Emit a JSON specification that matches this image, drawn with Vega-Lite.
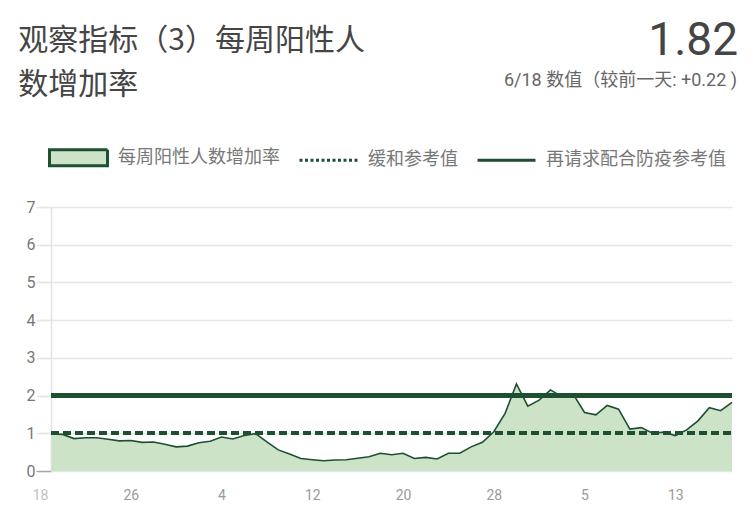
{
  "$schema": "https://vega.github.io/schema/vega-lite/v6.json",
  "width": 692,
  "height": 264,
  "autosize": {"type": "none"},
  "padding": {"left": 40, "top": 207, "right": 24, "bottom": 42},
  "background": "white",
  "config": {"view": {"stroke": null}, "font": "Roboto"},
  "data": {"values": [
    {"date": "2020/04/19", "value": 0.98},
    {"date": "2020/04/20", "value": 0.97},
    {"date": "2020/04/21", "value": 0.86},
    {"date": "2020/04/22", "value": 0.88},
    {"date": "2020/04/23", "value": 0.88},
    {"date": "2020/04/24", "value": 0.84},
    {"date": "2020/04/25", "value": 0.80},
    {"date": "2020/04/26", "value": 0.81},
    {"date": "2020/04/27", "value": 0.76},
    {"date": "2020/04/28", "value": 0.77},
    {"date": "2020/04/29", "value": 0.71},
    {"date": "2020/04/30", "value": 0.64},
    {"date": "2020/05/01", "value": 0.66},
    {"date": "2020/05/02", "value": 0.75},
    {"date": "2020/05/03", "value": 0.79},
    {"date": "2020/05/04", "value": 0.90},
    {"date": "2020/05/05", "value": 0.85},
    {"date": "2020/05/06", "value": 0.94},
    {"date": "2020/05/07", "value": 0.99},
    {"date": "2020/05/08", "value": 0.77},
    {"date": "2020/05/09", "value": 0.56},
    {"date": "2020/05/10", "value": 0.45},
    {"date": "2020/05/11", "value": 0.33},
    {"date": "2020/05/12", "value": 0.30},
    {"date": "2020/05/13", "value": 0.27},
    {"date": "2020/05/14", "value": 0.29},
    {"date": "2020/05/15", "value": 0.30},
    {"date": "2020/05/16", "value": 0.34},
    {"date": "2020/05/17", "value": 0.38},
    {"date": "2020/05/18", "value": 0.47},
    {"date": "2020/05/19", "value": 0.43},
    {"date": "2020/05/20", "value": 0.47},
    {"date": "2020/05/21", "value": 0.33},
    {"date": "2020/05/22", "value": 0.36},
    {"date": "2020/05/23", "value": 0.32},
    {"date": "2020/05/24", "value": 0.47},
    {"date": "2020/05/25", "value": 0.47},
    {"date": "2020/05/26", "value": 0.64},
    {"date": "2020/05/27", "value": 0.76},
    {"date": "2020/05/28", "value": 1.04},
    {"date": "2020/05/29", "value": 1.53},
    {"date": "2020/05/30", "value": 2.31},
    {"date": "2020/05/31", "value": 1.72},
    {"date": "2020/06/01", "value": 1.88},
    {"date": "2020/06/02", "value": 2.15},
    {"date": "2020/06/03", "value": 1.97},
    {"date": "2020/06/04", "value": 2.04},
    {"date": "2020/06/05", "value": 1.55},
    {"date": "2020/06/06", "value": 1.49},
    {"date": "2020/06/07", "value": 1.74},
    {"date": "2020/06/08", "value": 1.64},
    {"date": "2020/06/09", "value": 1.11},
    {"date": "2020/06/10", "value": 1.15},
    {"date": "2020/06/11", "value": 1.00},
    {"date": "2020/06/12", "value": 1.03},
    {"date": "2020/06/13", "value": 0.94},
    {"date": "2020/06/14", "value": 1.09},
    {"date": "2020/06/15", "value": 1.33},
    {"date": "2020/06/16", "value": 1.68},
    {"date": "2020/06/17", "value": 1.60},
    {"date": "2020/06/18", "value": 1.82}
  ]},
  "layer": [
    {
      "mark": {"type": "area", "color": "#cde3c8", "opacity": 1},
      "encoding": {
        "x": {
          "field": "date", "type": "temporal",
          "scale": {"domain": [{"year": 2020, "month": 4, "date": 18}, {"year": 2020, "month": 6, "date": 18}], "nice": false},
          "axis": {
            "values": [
              {"year": 2020, "month": 4, "date": 18},
              {"year": 2020, "month": 4, "date": 26},
              {"year": 2020, "month": 5, "date": 4},
              {"year": 2020, "month": 5, "date": 12},
              {"year": 2020, "month": 5, "date": 20},
              {"year": 2020, "month": 5, "date": 28},
              {"year": 2020, "month": 6, "date": 5},
              {"year": 2020, "month": 6, "date": 13}
            ],
            "tickCount": 20,
            "format": "%-d",
            "title": null,
            "grid": false,
            "ticks": false,
            "domain": false,
            "labelPadding": 17,
            "labelFontSize": 14,
            "labelFont": "Roboto",
            "labelColor": {"condition": {"test": "month(datum.value) === 3 && date(datum.value) === 18", "value": "#c2c2c2"}, "value": "#9a9a9a"},
            "labelFlush": false,
            "labelOverlap": false
          }
        },
        "y": {
          "field": "value", "type": "quantitative",
          "scale": {"domain": [0, 7], "nice": false},
          "axis": {
            "values": [0, 1, 2, 3, 4, 5, 6, 7],
            "tickCount": 20,
            "format": "d",
            "offset": -11,
            "title": null,
            "grid": true,
            "gridColor": "#e6e6e6",
            "gridWidth": 1.5,
            "domainColor": "#e2e2e2",
            "domainWidth": 1.5,
            "tickSize": 15,
            "tickWidth": 1.5,
            "tickColor": {"condition": {"test": "datum.value === 0", "value": "#a8a8a8"}, "value": "#e6e6e6"},
            "labelPadding": 1,
            "labelFontSize": 16,
            "labelFont": "Roboto",
            "labelColor": "#777777",
            "labelOverlap": false
          }
        }
      }
    },
    {
      "mark": {"type": "line", "strokeWidth": 1.6},
      "encoding": {
        "x": {"field": "date", "type": "temporal"},
        "y": {"field": "value", "type": "quantitative"},
        "color": {
          "datum": "每周阳性人数增加率",
          "type": "nominal",
          "scale": {"domain": ["每周阳性人数增加率", "缓和参考值", "再请求配合防疫参考值"], "range": ["#1d4f30", "#1d4f30", "#1d4f30"]},
          "legend": {
            "orient": "none",
            "legendX": 8,
            "legendY": -80,
            "direction": "horizontal",
            "columns": 3,
            "title": null,
            "symbolSize": 3364,
            "symbolStrokeWidth": 3,
            "labelFontSize": 18,
            "labelFont": "Noto Sans CJK SC",
            "labelColor": "#777777",
            "labelOffset": 9,
            "labelLimit": 400,
            "columnPadding": 13,
            "encode": {
              "symbols": {
                "update": {
                  "size": {"value": 3364},
                  "shape": {"signal": "datum.value === '每周阳性人数增加率' ? 'M-1,-0.276L1,-0.276L1,0.276L-1,0.276Z' : 'M-1,0L1,0'"},
                  "fill": {"signal": "datum.value === '每周阳性人数增加率' ? '#cde3c8' : 'transparent'"},
                  "stroke": {"value": "#1d4f30"},
                  "strokeWidth": {"value": 3},
                  "strokeDash": {"signal": "datum.value === '缓和参考值' ? [3, 2.5] : [1, 0]"},
                  "opacity": {"value": 1}
                }
              }
            }
          }
        }
      }
    },
    {
      "mark": {"type": "rule", "strokeWidth": 3.5, "strokeDash": [7, 5]},
      "encoding": {
        "x": {"datum": {"year": 2020, "month": 4, "date": 19}, "type": "temporal"},
        "x2": {"datum": {"year": 2020, "month": 6, "date": 18}},
        "y": {"datum": 1, "type": "quantitative"},
        "color": {"datum": "缓和参考值", "type": "nominal"}
      }
    },
    {
      "mark": {"type": "rule", "strokeWidth": 3.5},
      "encoding": {
        "x": {"datum": {"year": 2020, "month": 4, "date": 19}, "type": "temporal"},
        "x2": {"datum": {"year": 2020, "month": 6, "date": 18}},
        "y": {"datum": 2, "type": "quantitative"},
        "color": {"datum": "再请求配合防疫参考值", "type": "nominal"}
      }
    },
    {
      "data": {"values": [{"t": "观察指标（3）每周阳性人\n数增加率"}]},
      "mark": {"type": "text", "align": "left", "baseline": "alphabetic", "fontSize": 30, "font": "Noto Sans CJK SC", "color": "#454545", "dx": -33, "lineBreak": "\n", "lineHeight": 44},
      "encoding": {
        "x": {"datum": {"year": 2020, "month": 4, "date": 19}, "type": "temporal"},
        "y": {"datum": 11.17, "type": "quantitative"},
        "text": {"field": "t"}
      }
    },
    {
      "data": {"values": [{"t": "1.82"}]},
      "mark": {"type": "text", "align": "right", "baseline": "alphabetic", "fontSize": 46, "font": "Roboto", "color": "#454545", "dx": 6},
      "encoding": {
        "x": {"datum": {"year": 2020, "month": 6, "date": 18}, "type": "temporal"},
        "y": {"datum": 11.03, "type": "quantitative"},
        "text": {"field": "t"}
      }
    },
    {
      "data": {"values": [{"t": "6/18 数值（较前一天: +0.22 )"}]},
      "mark": {"type": "text", "align": "right", "baseline": "alphabetic", "fontSize": 18, "font": "Roboto, Noto Sans CJK SC", "color": "#666666", "dx": 5},
      "encoding": {
        "x": {"datum": {"year": 2020, "month": 6, "date": 18}, "type": "temporal"},
        "y": {"datum": 10.21, "type": "quantitative"},
        "text": {"field": "t"}
      }
    }
  ]
}
